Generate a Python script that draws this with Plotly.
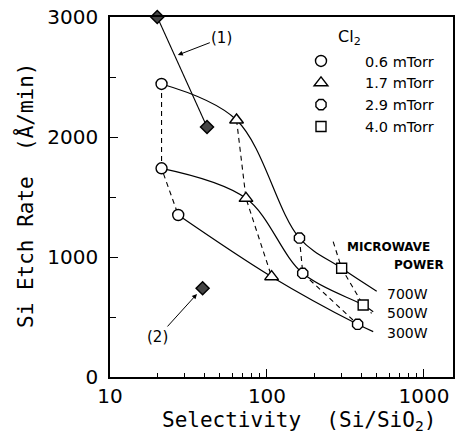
import plotly.graph_objects as go

# ---- data ----
powers = ["700W", "500W", "300W"]

# markers, grouped by Cl2 pressure (order of points: 700W, 500W, 300W)
p06_x = [21.3, 21.3, 27.2]
p06_y = [2442, 1739, 1350]
p17_x = [64, 73.5, 107]
p17_y = [2142, 1489, 836]
p29_x = [161, 169, 378]
p29_y = [1158, 864, 439]
p40_x = [299, 410]
p40_y = [906, 600]

# solid curves per microwave power (last point is the end of the drawn curve)
w700_x = [21.3, 64, 161, 299, 500]
w700_y = [2442, 2142, 1158, 906, 715]
w500_x = [21.3, 73.5, 169, 410, 475]
w500_y = [1739, 1489, 864, 600, 544]
w300_x = [27.2, 107, 378, 475]
w300_y = [1350, 836, 439, 378]

# dashed 4.0 mTorr guide (extends beyond the squares)
p40_line_x = [264, 299, 410, 464]
p40_line_y = [1128, 906, 600, 531]

# reference points (1) and (2)
ref1_x = [20, 41.5]
ref1_y = [3000, 2083]
ref2_x = [38.9]
ref2_y = [740]

y_ticks = [0, 1000, 2000, 3000]
x_ticks = [10, 100, 1000]
x_minor = [v * d for d in (10, 100, 1000) for v in range(2, 10)]

FONT = "DejaVu Sans"
MONO = "DejaVu Sans Mono"
BLK = "black"

fig = go.Figure()

# solid power curves
for xs, ys in [(w700_x, w700_y), (w500_x, w500_y), (w300_x, w300_y)]:
    fig.add_trace(go.Scatter(x=xs, y=ys, mode="lines", showlegend=False,
                             line=dict(color=BLK, width=1.2, shape="spline", smoothing=1.0),
                             hoverinfo="skip"))

# dashed pressure curves
for xs, ys in [(p06_x, p06_y), (p17_x, p17_y), (p29_x, p29_y), (p40_line_x, p40_line_y)]:
    fig.add_trace(go.Scatter(x=xs, y=ys, mode="lines", showlegend=False,
                             line=dict(color=BLK, width=1.1, dash="5px,4px"),
                             hoverinfo="skip"))

# reference (1) line
fig.add_trace(go.Scatter(x=ref1_x, y=ref1_y, mode="lines+markers", showlegend=False,
                         line=dict(color=BLK, width=1.1),
                         marker=dict(symbol="diamond", size=10, color="#444",
                                     line=dict(color=BLK, width=1.5)),
                         cliponaxis=False))
fig.add_trace(go.Scatter(x=ref2_x, y=ref2_y, mode="markers", showlegend=False,
                         marker=dict(symbol="diamond", size=10, color="#444",
                                     line=dict(color=BLK, width=1.5)),
                         cliponaxis=False))

# pressure markers (legend)
specs = [
    (p06_x, p06_y, "circle", 11, "0.6 mTorr"),
    (p17_x, p17_y, "triangle-up", 12, "1.7 mTorr"),
    (p29_x, p29_y, "octagon", 11, "2.9 mTorr"),
    (p40_x, p40_y, "square", 10, "4.0 mTorr"),
]
for xs, ys, sym, sz, name in specs:
    fig.add_trace(go.Scatter(x=xs, y=ys, mode="markers", name=name,
                             marker=dict(symbol=sym, size=sz, color="white",
                                         line=dict(color=BLK, width=1.4)),
                             cliponaxis=False))


def px(x):
    return (x - 110) / 343


def py(y):
    return (377 - y) / 360


ann = []
ann.append(dict(text="Si Etch Rate  (Å/min)", xref="paper", yref="paper",
                x=px(25), y=py(195), xanchor="center", yanchor="middle",
                textangle=-90, showarrow=False,
                font=dict(size=21, family=MONO, color=BLK)))
ann.append(dict(text="Selectivity  (Si/SiO<sub>2</sub>)", xref="paper", yref="paper",
                x=px(299), y=py(421), xanchor="center", yanchor="middle", showarrow=False,
                font=dict(size=21, family=MONO, color=BLK)))
ann.append(dict(text="Cl<sub>2</sub>", xref="paper", yref="paper",
                x=px(349), y=py(37), xanchor="center", yanchor="middle", showarrow=False,
                font=dict(size=16, family=FONT, color=BLK)))
ann.append(dict(text="MICROWAVE", xref="paper", yref="paper",
                x=px(388), y=py(247), xanchor="center", yanchor="middle", showarrow=False,
                font=dict(size=12, family=FONT, color=BLK, weight="bold")))
ann.append(dict(text="POWER", xref="paper", yref="paper", xanchor="right", yanchor="middle",
                x=px(446), y=py(265), showarrow=False,
                font=dict(size=12, family=FONT, color=BLK, weight="bold")))
for lbl, yy in zip(powers, [294, 313, 333]):
    ann.append(dict(text=lbl, xref="paper", yref="paper", xanchor="left", yanchor="middle",
                    x=px(385), y=py(yy), showarrow=False,
                    font=dict(size=14, family=FONT, color=BLK)))
# (1) and (2) pointer labels
ann.append(dict(text="(1)", x=1.432, y=2683, xref="x", yref="y",
                ax=44, ay=-17, showarrow=True, arrowhead=2, arrowsize=1,
                arrowwidth=1, arrowcolor=BLK,
                font=dict(size=15, family=FONT, color=BLK)))
ann.append(dict(text="(2)", x=1.554, y=692, xref="x", yref="y",
                ax=-39, ay=43, showarrow=True, arrowhead=2, arrowsize=1,
                arrowwidth=1, arrowcolor=BLK,
                font=dict(size=15, family=FONT, color=BLK)))

fig.update_layout(
    width=456, height=440,
    margin=dict(l=110, r=3, t=17, b=63, autoexpand=False),
    paper_bgcolor="white", plot_bgcolor="white",
    font=dict(family=FONT, color=BLK),
    annotations=ann,
    legend=dict(x=px(277), y=py(45), xanchor="left", yanchor="top",
                bgcolor="rgba(0,0,0,0)", itemwidth=78,
                font=dict(size=14.5, family=FONT, color=BLK)),
    xaxis=dict(type="log", range=[1, 3.185], tickvals=x_ticks, ticktext=[str(v) for v in x_ticks],
               automargin=False,
               ticks="inside", ticklen=8, tickwidth=1.2, tickcolor=BLK,
               showline=True, linecolor=BLK, linewidth=1.5, mirror=True,
               showgrid=False, zeroline=False,
               tickfont=dict(size=20, family=FONT, color=BLK),
               minor=dict(tickvals=x_minor, ticks="inside", ticklen=4, tickcolor=BLK, showgrid=False)),
    yaxis=dict(range=[0, 3000], tickvals=y_ticks, ticktext=[str(v) for v in y_ticks],
               automargin=False,
               ticks="inside", ticklen=8, tickwidth=1.2, tickcolor=BLK,
               showline=True, linecolor=BLK, linewidth=1.5, mirror=True,
               showgrid=False, zeroline=False, ticklabelstandoff=6,
               tickfont=dict(size=20, family=FONT, color=BLK),
               minor=dict(tickvals=[500, 1500, 2500], ticks="inside", ticklen=6,
                          tickcolor=BLK, showgrid=False)),
)

fig.write_html("out.html", config={"displayModeBar": False},
               post_script="document.body.style.margin='0';document.body.style.overflow='hidden';")
